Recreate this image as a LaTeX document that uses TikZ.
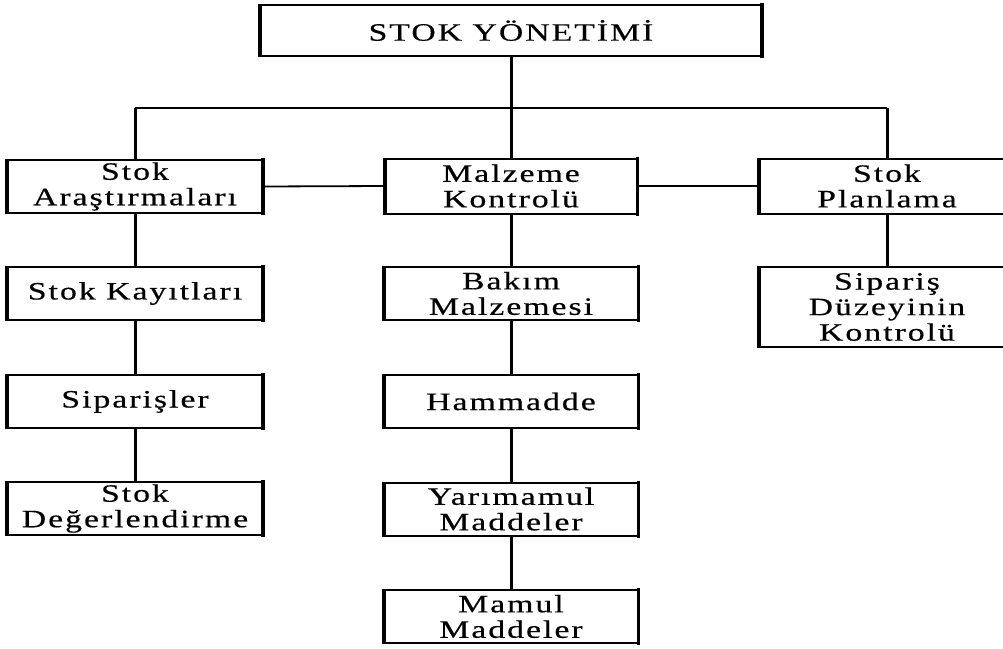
\documentclass[tikz,border=0pt]{standalone}
\usepackage{fontspec}
\setmainfont{Liberation Serif}[FakeStretch=1.35, LetterSpace=8, FakeBold=0.4]
\begin{document}
\begin{tikzpicture}[x=1pt,y=-1pt,
  box/.style={draw=black, line width=2pt, fill=white, inner sep=0pt,
    align=center, font=\fontsize{25}{25.5}\selectfont},
  vedge/.style={line width=3.2pt, shorten <=-1pt, shorten >=-1pt},
  conn/.style={line width=3pt},
  bus/.style={line width=2pt},
  link/.style={line width=1.8pt}]
\useasboundingbox (0,0) rectangle (1003,648);
\clip (0,0) rectangle (1003,648);

% top level
\node[box, minimum width=500pt, minimum height=51pt] (top) at (511,30.5) {STOK YÖNETİMİ};

% second level
\node[box, minimum width=254pt, minimum height=53pt] (ara) at (135,186.5) {Stok\\Araştırmaları};
\node[box, minimum width=251pt, minimum height=55pt] (mal) at (511,186) {Malzeme\\Kontrolü};
\node[box, minimum width=254pt, minimum height=55pt] (pla) at (887,186) {Stok\\Planlama};

% left column
\node[box, minimum width=254pt, minimum height=53pt] (kay) at (135,293.5) {Stok Kayıtları};
\node[box, minimum width=254pt, minimum height=53pt] (sip) at (135,401.5) {Siparişler};
\node[box, minimum width=254pt, minimum height=53pt] (deg) at (135,508.5) {Stok\\Değerlendirme};

% middle column
\node[box, minimum width=253pt, minimum height=53pt] (bak) at (511,293.5) {Bakım\\Malzemesi};
\node[box, minimum width=253pt, minimum height=53pt] (ham) at (511,401.5) {Hammadde};
\node[box, minimum width=253pt, minimum height=53pt] (yar) at (511,509) {Yarımamul\\Maddeler};
\node[box, minimum width=253pt, minimum height=53pt] (mam) at (511,616.5) {Mamul\\Maddeler};

% right column
\node[box, minimum width=254pt, minimum height=80pt] (duz) at (887,307) {Sipariş\\Düzeyinin\\Kontrolü};

% heavier vertical box edges
\foreach \n in {top,ara,mal,pla,kay,sip,deg,bak,ham,yar,mam,duz}
  \draw[vedge] (\n.north west) -- (\n.south west) (\n.north east) -- (\n.south east);

% distribution bus
\coordinate (busL) at (135,108);
\coordinate (busR) at (887,108);
\draw[bus] (busL) -- (busR);
\draw[conn] (top.south) -- (mal.north);
\draw[conn] (busL) -- (ara.north);
\draw[conn] (busR) -- (pla.north);

% links between second-level boxes
\draw[link] (ara.east) -- (mal.west);
\draw[link] (mal.east) -- (pla.west);

% column chains
\draw[conn] (ara.south) -- (kay.north);
\draw[conn] (kay.south) -- (sip.north);
\draw[conn] (sip.south) -- (deg.north);
\draw[conn] (mal.south) -- (bak.north);
\draw[conn] (bak.south) -- (ham.north);
\draw[conn] (ham.south) -- (yar.north);
\draw[conn] (yar.south) -- (mam.north);
\draw[conn] (pla.south) -- (duz.north);
\end{tikzpicture}
\end{document}
